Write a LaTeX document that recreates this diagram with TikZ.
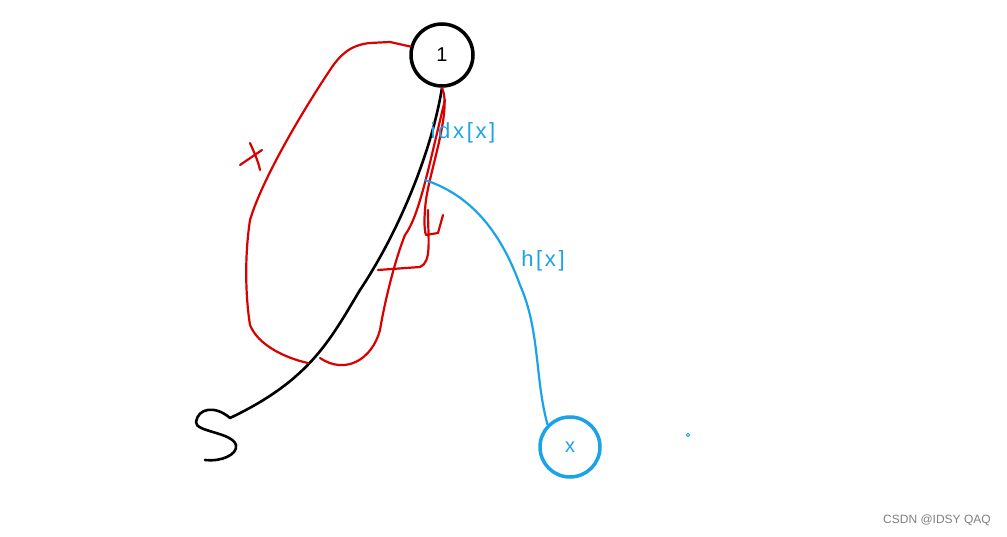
\documentclass[tikz,border=0pt]{standalone}
\usepackage{fontspec}
\setmainfont{Liberation Sans}
\begin{document}
\begin{tikzpicture}[x=1pt,y=-1pt,
  redl/.style={draw=red!85!black, line width=2.2pt, line cap=round, line join=round},
  blk/.style={draw=black, line width=2.6pt, line cap=round, line join=round},
  bl/.style={draw=bluec, line width=2.2pt, line cap=round},
  lbl/.style={text=bluec, font=\fontsize{22}{24}\selectfont\addfontfeature{LetterSpace=12}, inner sep=0pt}]
\definecolor{bluec}{HTML}{1AA3E8}
\useasboundingbox[fill=white] (0,0) rectangle (1007,537);
\node[circle, draw=black, line width=3.5pt, minimum size=62pt, font=\fontsize{20}{22}\selectfont] (one) at (442,55) {1};
\node[circle, draw=bluec, line width=3.5pt, minimum size=60pt, text=bluec, font=\fontsize{20}{22}\selectfont] (xn) at (570,447) {x};
\node[draw=bluec, circle, line width=0.8pt, inner sep=1.2pt] (dot) at (688,435) {};
\node[text=gray, font=\fontsize{12}{12}\selectfont] (csdn) at (937,520) {CSDN @IDSY QAQ};
% black path
\draw[blk] (one.south) .. controls (432,150) and (400,230) .. (360,290)
  .. controls (330,340) and (310,380) .. (230,418);
\draw[blk] (230,418) .. controls (215,405) and (198,408) .. (196,422)
  .. controls (195,432) and (232,432) .. (236,445) .. controls (238,455) and (220,462) .. (205,460);
% red left loop
\draw[redl] (one.165) -- (390,42) -- (370,43) .. controls (350,45) and (340,55) .. (330,70)
  .. controls (300,115) and (262,180) .. (250,220)
  .. controls (244,260) and (246,300) .. (250,325)
  .. controls (258,345) and (285,358) .. (308,363);
% red x mark
\draw[redl] (240,165) -- (262,150);
\draw[redl] (250,143) .. controls (253,150) and (258,160) .. (260,170);
% red right strokes
\draw[redl] (one.south) .. controls (452,110) and (430,170) .. (426,200)
  .. controls (424,215) and (424,230) .. (426,235) -- (438,233) -- (443,215);
\draw[redl] (428,210) .. controls (428,240) and (432,262) .. (420,267) -- (378,270);
\draw[redl] (445,100) .. controls (430,160) and (420,215) .. (405,235)
  .. controls (395,260) and (385,300) .. (380,330)
  .. controls (372,360) and (345,375) .. (320,358);
% blue edge
\draw[bl] (425,180) .. controls (470,195) and (500,230) .. (520,285)
  .. controls (540,330) and (535,380) .. (xn.north west);
\node[lbl] (idx) at (463,133) {idx[x]};
\node[lbl] (hx) at (543,261) {h[x]};
\end{tikzpicture}
\end{document}
